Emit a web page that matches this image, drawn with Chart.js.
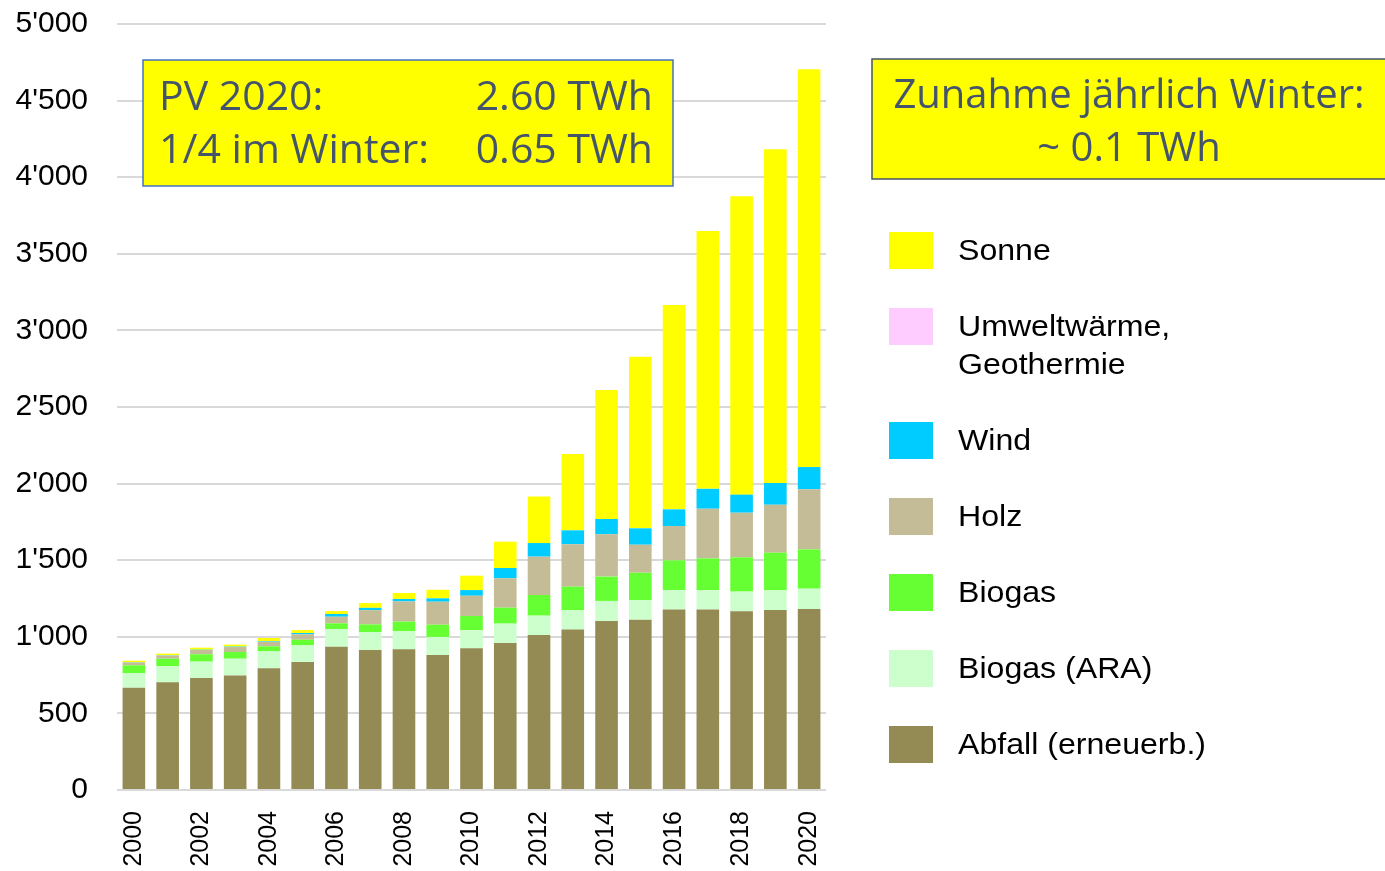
<!DOCTYPE html>
<html>
<head>
<meta charset="utf-8">
<script src="https://cdn.jsdelivr.net/npm/chart.js@4.4.1/dist/chart.umd.min.js"></script>
<style>
    html, body { margin: 0; padding: 0; background: #fff; }
    #wrap { position: relative; width: 1385px; height: 871px; }
</style>
</head>
<body>
<div id="wrap"><canvas id="chart"></canvas></div>
<script>
// values in GWh
const years = ['2000','2001','2002','2003','2004','2005','2006','2007','2008','2009','2010',
               '2011','2012','2013','2014','2015','2016','2017','2018','2019','2020'];
const abfall = [668, 703, 731, 748, 794, 836, 935, 914, 918, 881, 925, 960, 1012, 1047, 1103, 1112, 1179, 1179, 1166, 1175, 1181];
const biogasAra = [94, 104, 107, 109, 111, 108, 116, 117, 118, 118, 119, 126, 126, 128, 131, 128, 126, 126, 129, 128, 133];
const biogas = [52, 50, 48, 44, 33, 37, 37, 50, 63, 80, 92, 104, 135, 152, 159, 178, 194, 207, 224, 246, 257];
const holz = [18, 20, 28, 32, 29, 35, 43, 93, 132, 150, 132, 192, 250, 277, 276, 183, 224, 324, 291, 313, 392];
const wind = [2, 2, 2, 3, 4, 9, 18, 15, 16, 22, 37, 67, 89, 91, 100, 107, 109, 130, 118, 142, 145];
const umwelt = [0, 0, 0, 0, 0, 0, 0, 0, 0, 0, 0, 0, 0, 0, 0, 0, 0, 0, 0, 0, 0];
const sonne = [10, 11, 13, 13, 21, 19, 19, 31, 39, 56, 94, 172, 303, 498, 842, 1120, 1334, 1683, 1947, 2178, 2596];

const yTicks = [0, 500, 1000, 1500, 2000, 2500, 3000, 3500, 4000, 4500, 5000];

const COLORS = {
    abfall: '#948A54',
    ara: '#CCFFCC',
    biogas: '#66FF33',
    holz: '#C4BC96',
    wind: '#00CCFF',
    umwelt: '#FFCCFF',
    sonne: '#FFFF00'
};

function fmtThousands(v) {
    return String(v).replace(/\B(?=(\d{3})+(?!\d))/g, "'");
}

// legend on the right, drawn top to bottom in reverse stack order
const sideLegend = {
    id: 'sideLegend',
    afterDraw(chart) {
        const ctx = chart.ctx;
        const items = chart.data.datasets.slice().reverse();
        let y = 232;
        ctx.save();
        ctx.font = '30px "Liberation Sans", Arial, sans-serif';
        ctx.textBaseline = 'middle';
        items.forEach(ds => {
            ctx.fillStyle = ds.backgroundColor;
            ctx.fillRect(889, y, 44, 37);
            ctx.fillStyle = '#000';
            const lines = ds.legendLines || [ds.label];
            lines.forEach((line, i) => {
                // the source picture is a little wider than plain Arial
                ctx.save();
                ctx.translate(958, y + 20 + i * 38);
                ctx.scale(1.07, 1);
                ctx.fillText(line, 0, 0);
                ctx.restore();
            });
            y += 76 + (lines.length - 1) * 38;
        });
        ctx.restore();
    }
};

// the two yellow note boxes
const noteBoxes = {
    id: 'noteBoxes',
    afterDraw(chart) {
        const ctx = chart.ctx;
        ctx.save();
        ctx.fillStyle = '#FFFF00';
        ctx.strokeStyle = '#4472C4';
        ctx.lineWidth = 1.5;
        ctx.fillRect(143, 60, 530, 126);
        ctx.strokeRect(143, 60, 530, 126);
        ctx.fillRect(872, 59, 520, 120);
        ctx.strokeStyle = '#44546A';
        ctx.strokeRect(872, 59, 520, 120);

        ctx.fillStyle = '#44546A';
        ctx.font = '41px "Open Sans", "Noto Sans", sans-serif';
        ctx.textBaseline = 'middle';
        ctx.textAlign = 'left';
        ctx.fillText('PV 2020:', 159, 98);
        ctx.fillText('1/4 im Winter:', 159, 151);
        ctx.textAlign = 'right';
        ctx.fillText('2.60 TWh', 653, 98);
        ctx.fillText('0.65 TWh', 653, 151);
        ctx.textAlign = 'center';
        ctx.font = '40px "Open Sans", "Noto Sans", sans-serif';
        ctx.fillText('Zunahme jährlich Winter:', 1129, 97);
        ctx.fillText('~ 0.1 TWh', 1129, 150);
        ctx.restore();
    }
};

const ctx = document.getElementById('chart').getContext('2d');
new Chart(ctx, {
    type: 'bar',
    data: {
        labels: years,
        datasets: [
            { label: 'Abfall (erneuerb.)', data: abfall, backgroundColor: COLORS.abfall },
            { label: 'Biogas (ARA)', data: biogasAra, backgroundColor: COLORS.ara },
            { label: 'Biogas', data: biogas, backgroundColor: COLORS.biogas },
            { label: 'Holz', data: holz, backgroundColor: COLORS.holz },
            { label: 'Wind', data: wind, backgroundColor: COLORS.wind },
            { label: 'Umweltwärme, Geothermie', legendLines: ['Umweltwärme,', 'Geothermie'], data: umwelt, backgroundColor: COLORS.umwelt },
            { label: 'Sonne', data: sonne, backgroundColor: COLORS.sonne }
        ]
    },
    options: {
        responsive: true,
        maintainAspectRatio: false,
        animation: false,
        datasets: { bar: { barPercentage: 0.67, categoryPercentage: 1.0 } },
        layout: { padding: { top: 24, right: 559, bottom: 0, left: 0 } },
        scales: {
            x: {
                stacked: true,
                grid: { display: false },
                border: { display: false },
                ticks: {
                    autoSkip: false,
                    minRotation: 90,
                    maxRotation: 90,
                    padding: 13,
                    color: '#000',
                    font: { family: '"Liberation Sans", Arial, sans-serif', size: 25 },
                    callback: (val, i) => (i % 2 === 0 ? years[i] : '')
                },
                afterFit: scale => { scale.height = 81; }
            },
            y: {
                stacked: true,
                min: 0,
                max: 5000,
                afterBuildTicks: scale => { scale.ticks = yTicks.map(v => ({ value: v })); },
                grid: { color: '#D9D9D9', lineWidth: 2, drawTicks: false },
                border: { display: false },
                ticks: {
                    padding: 29,
                    color: '#000',
                    font: { family: '"Liberation Sans", Arial, sans-serif', size: 30 },
                    callback: v => fmtThousands(v)
                },
                afterFit: scale => {
                    scale.width = 117;
                    // tick padding should not push the plot down
                    scale.paddingTop = 0;
                }
            }
        },
        plugins: {
            legend: { display: false },
            tooltip: { enabled: false }
        }
    },
    plugins: [sideLegend, noteBoxes]
});
</script>
</body>
</html>
